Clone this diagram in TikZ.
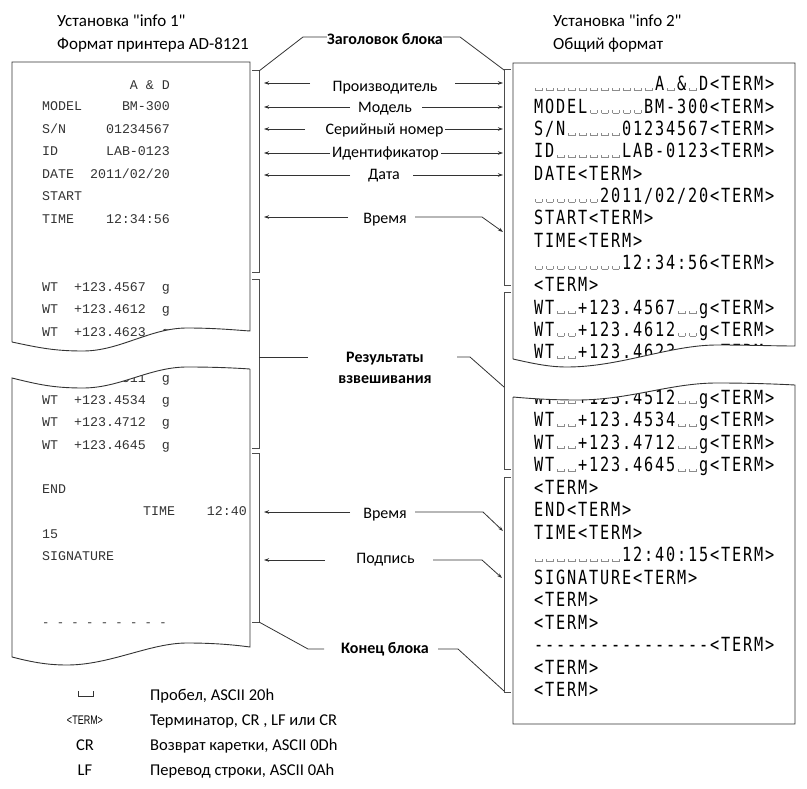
\documentclass[tikz,border=0pt]{standalone}
\usepackage{fontspec}
\setmainfont{Carlito}
\newfontfamily\lmono{Liberation Mono}
\newfontfamily\rmono{DejaVu Sans Mono}
\newfontfamily\nsans{Liberation Sans}
\usepackage{graphicx}
\usetikzlibrary{arrows.meta}
\makeatletter
\newcommand\rline[1]{{\rmono\fontsize{19.5}{20}\selectfont\@tfor\ch:=#1\do{\makebox[11pt][c]{\scalebox{0.78}[1]{\ch}}}}}
\makeatother
\newcommand\sq{\textcolor{black!45}{\rule{0.6pt}{3pt}\rule{8pt}{0.6pt}\rule{0.6pt}{3pt}}}
\newcommand\qq{\XeTeXglyph\XeTeXcharglyph"22\relax}
\tikzset{
  paper/.style={line width=0.9pt, draw=black!80},
  brk/.style={line width=1pt, draw=black!70},
  lead/.style={line width=0.8pt, draw=black!80},
  arr/.style={lead, -{Stealth[length=5pt,width=3.5pt]}},
  lbl/.style={inner sep=0pt, anchor=base, font=\fontsize{16}{18}\selectfont},
  blbl/.style={inner sep=0pt, anchor=base, font=\fontsize{16}{18}\selectfont\bfseries},
  ttl/.style={inner sep=0pt, anchor=base west, font=\fontsize{17}{19}\selectfont},
  ltxt/.style={inner sep=0pt, anchor=base west, text=black!80, font=\lmono\fontsize{13.3}{14}\selectfont},
  rtxt/.style={inner sep=0pt, anchor=base west},
  leg/.style={inner sep=0pt, anchor=base, font=\fontsize{16.5}{18}\selectfont},
  legd/.style={inner sep=0pt, anchor=base west, font=\fontsize{16.5}{18}\selectfont},
}
\begin{document}
\begin{tikzpicture}[x=1pt,y=-1pt]
\useasboundingbox (0,0) rectangle (807,789);

% ---------- titles
\node[ttl] (t1) at (57,27) {Установка \qq info 1\qq};
\node[ttl] (t2) at (57,49.5) {Формат принтера AD-8121};
\node[ttl] (t3) at (553,27) {Установка \qq info 2\qq};
\node[ttl] (t4) at (553,50) {Общий формат};

% ---------- left paper text
\node[ltxt,anchor=base east] (l0) at (170,90) {A \& D};
\node[ltxt] (l1) at (42,111) {MODEL~~~~~BM-300};
\node[ltxt] (l2) at (42,133.3) {S/N~~~~~01234567};
\node[ltxt] (l3) at (42,155.7) {ID~~~~~~LAB-0123};
\node[ltxt] (l4) at (42,178.3) {DATE~~2011/02/20};
\node[ltxt] (l5) at (42,200.7) {START};
\node[ltxt] (l6) at (42,223.3) {TIME~~~~12:34:56};
\node[ltxt] (l7) at (42,291) {WT~~+123.4567~~g};
\node[ltxt] (l8) at (42,313.5) {WT~~+123.4612~~g};
\node[ltxt] (l9) at (42,336) {WT~~+123.4623~~g};
\node[ltxt] (l10) at (42,382) {WT~~+123.4511~~g};
\node[ltxt] (l11) at (42,404) {WT~~+123.4534~~g};
\node[ltxt] (l12) at (42,426.5) {WT~~+123.4712~~g};
\node[ltxt] (l13) at (42,449) {WT~~+123.4645~~g};
\node[ltxt] (l14) at (42,493) {END};
\node[ltxt] (l15a) at (143,515) {TIME};
\node[ltxt,anchor=base east] (l15b) at (247,515) {12:40};
\node[ltxt] (l16) at (42,538) {15};
\node[ltxt] (l17) at (42,560) {SIGNATURE};
\node[ltxt, font=\lmono\fontsize{12.2}{14}\selectfont] (l18) at (42,626) {- - - - - - - - -};

% ---------- right paper text
\node[rtxt] (r1) at (533,91) {\rline{\sq\sq\sq\sq\sq\sq\sq\sq\sq\sq\sq A\sq\&\sq D<TERM>}};
\node[rtxt] (r2) at (533,113.3) {\rline{MODEL\sq\sq\sq\sq\sq BM-300<TERM>}};
\node[rtxt] (r3) at (533,135.6) {\rline{S/N\sq\sq\sq\sq\sq 01234567<TERM>}};
\node[rtxt] (r4) at (533,157.9) {\rline{ID\sq\sq\sq\sq\sq\sq LAB-0123<TERM>}};
\node[rtxt] (r5) at (533,180.2) {\rline{DATE<TERM>}};
\node[rtxt] (r6) at (533,202.5) {\rline{\sq\sq\sq\sq\sq\sq 2011/02/20<TERM>}};
\node[rtxt] (r7) at (533,224.8) {\rline{START<TERM>}};
\node[rtxt] (r8) at (533,247.1) {\rline{TIME<TERM>}};
\node[rtxt] (r9) at (533,269.4) {\rline{\sq\sq\sq\sq\sq\sq\sq\sq 12:34:56<TERM>}};
\node[rtxt] (r10) at (533,291.7) {\rline{<TERM>}};
\node[rtxt] (r11) at (533,314) {\rline{WT\sq\sq+123.4567\sq\sq g<TERM>}};
\node[rtxt] (r12) at (533,336.3) {\rline{WT\sq\sq+123.4612\sq\sq g<TERM>}};
\node[rtxt] (r13) at (533,358.6) {\rline{WT\sq\sq+123.4623\sq\sq g<TERM>}};
\node[rtxt] (r14) at (533,404) {\rline{WT\sq\sq+123.4512\sq\sq g<TERM>}};
\node[rtxt] (r15) at (533,426.5) {\rline{WT\sq\sq+123.4534\sq\sq g<TERM>}};
\node[rtxt] (r16) at (533,449) {\rline{WT\sq\sq+123.4712\sq\sq g<TERM>}};
\node[rtxt] (r17) at (533,471.5) {\rline{WT\sq\sq+123.4645\sq\sq g<TERM>}};
\node[rtxt] (r18) at (533,494) {\rline{<TERM>}};
\node[rtxt] (r19) at (533,516.5) {\rline{END<TERM>}};
\node[rtxt] (r20) at (533,539) {\rline{TIME<TERM>}};
\node[rtxt] (r21) at (533,561.5) {\rline{\sq\sq\sq\sq\sq\sq\sq\sq 12:40:15<TERM>}};
\node[rtxt] (r22) at (533,584) {\rline{SIGNATURE<TERM>}};
\node[rtxt] (r23) at (533,606.5) {\rline{<TERM>}};
\node[rtxt] (r24) at (533,629) {\rline{<TERM>}};
\node[rtxt] (r25) at (533,651.5) {\rline{----------------<TERM>}};
\node[rtxt] (r26) at (533,674) {\rline{<TERM>}};
\node[rtxt] (r27) at (533,696.5) {\rline{<TERM>}};

% ---------- gaps (torn papers)
\fill[white] (11,342) .. controls (40,348) and (55,351) .. (83,351) .. controls (120,351) and (150,328) .. (187,328) .. controls (215,328) and (235,330) .. (251,331)
  -- (251,369) .. controls (235,368) and (215,367) .. (187,367) .. controls (150,367) and (120,388) .. (83,388) .. controls (55,388) and (40,385) .. (11,378) -- cycle;
\fill[white] (512,359) .. controls (535,364) and (550,367) .. (567,367) .. controls (620,367) and (670,345) .. (717,345) .. controls (750,345) and (775,346) .. (796,346)
  -- (796,385) .. controls (775,384) and (750,383) .. (717,383) .. controls (670,383) and (630,400) .. (577,400) .. controls (555,400) and (535,399) .. (512,397) -- cycle;

% ---------- paper outlines
\draw[paper] (12,342) -- (12,62) -- (250,62) -- (250,331)
  .. controls (235,330) and (215,328) .. (187,328) .. controls (150,328) and (120,351) .. (83,351) .. controls (55,351) and (40,348) .. (12,342);
\draw[paper] (250,369) -- (250,647)
  .. controls (235,645) and (215,643) .. (187,643) .. controls (150,643) and (110,665) .. (67,665) .. controls (50,665) and (35,663) .. (12,657)
  -- (12,378) .. controls (40,385) and (55,388) .. (83,388) .. controls (120,388) and (150,367) .. (187,367) .. controls (215,367) and (235,368) .. (250,369);
\draw[paper] (513,359) -- (513,63) -- (795,63) -- (795,346)
  .. controls (775,346) and (750,345) .. (717,345) .. controls (670,345) and (620,367) .. (567,367) .. controls (550,367) and (535,364) .. (513,359);
\draw[paper] (513,397) -- (513,724) -- (795,724) -- (795,385)
  .. controls (775,384) and (750,383) .. (717,383) .. controls (670,383) and (630,400) .. (577,400) .. controls (555,400) and (535,399) .. (513,397);

% ---------- brackets
\draw[brk] (252,71) -- (259,71) -- (259,273) -- (252,273);
\draw[brk] (252,280) -- (259,280) -- (259,448) -- (252,448);
\draw[brk] (252,453) -- (259,453) -- (259,622) -- (252,622);
\draw[brk] (511,70) -- (504,70) -- (504,286) -- (511,286);
\draw[brk] (511,293) -- (504,293) -- (504,469) -- (511,469);
\draw[brk] (511,477) -- (504,477) -- (504,692) -- (511,692);

% ---------- middle labels
\node[blbl] (h) at (385,45) {Заголовок блока};
\node[lbl] (m1) at (385,91.5) {Производитель};
\node[lbl] (m2) at (385,113) {Модель};
\node[lbl] (m3) at (384.5,135) {Серийный номер};
\node[lbl] (m4) at (385.5,157.5) {Идентификатор};
\node[lbl] (m5) at (384,180) {Дата};
\node[lbl] (m6) at (385,224) {Время};
\node[blbl] (res1) at (385,362) {Результаты};
\node[blbl] (res2) at (385,383) {взвешивания};
\node[lbl] (m7) at (385,518) {Время};
\node[lbl] (m8) at (385.5,563) {Подпись};
\node[blbl] (fin) at (385,653) {Конец блока};

% ---------- connector end points
\coordinate (hL) at (259,71);  \coordinate (hLk) at (303,37); \coordinate (hLs) at (h.west |- 0,37);
\coordinate (hR) at (504,70);  \coordinate (hRk) at (460,37); \coordinate (hRs) at (h.east |- 0,37);
\coordinate (rL) at (259,357); \coordinate (rLs) at (308,357);
\coordinate (rR) at (504,387); \coordinate (rRk) at (470,357); \coordinate (rRs) at (457,357);
\coordinate (fL) at (259,622); \coordinate (fLk) at (308,649); \coordinate (fLs) at (324,649);
\coordinate (fR) at (504,691); \coordinate (fRk) at (458,649); \coordinate (fRs) at (438,649);

\coordinate (a1) at (310,83);  \coordinate (A1) at (264,83);  \coordinate (b1) at (455,83);  \coordinate (B1) at (503,83);
\coordinate (a2) at (350,107); \coordinate (A2) at (264,107); \coordinate (b2) at (422,107); \coordinate (B2) at (503,107);
\coordinate (a3) at (305,129); \coordinate (A3) at (264,129); \coordinate (b3) at (445,129); \coordinate (B3) at (503,129);
\coordinate (a4) at (330,153); \coordinate (A4) at (264,153); \coordinate (b4) at (441,153); \coordinate (B4) at (503,153);
\coordinate (a5) at (350,175); \coordinate (A5) at (264,175); \coordinate (b5) at (413,175); \coordinate (B5) at (503,175);
\coordinate (a6) at (348,217); \coordinate (A6) at (264,217); \coordinate (b6) at (415,217); \coordinate (k6) at (482,217); \coordinate (B6) at (503,232);
\coordinate (a7) at (350,512); \coordinate (A7) at (264,512); \coordinate (b7) at (415,512); \coordinate (k7) at (483,512); \coordinate (B7) at (503,531);
\coordinate (a8) at (325,560); \coordinate (A8) at (264,560); \coordinate (b8) at (433,560); \coordinate (k8) at (482,560); \coordinate (B8) at (502,578);

% ---------- leaders
\draw[lead] (hL) -- (hLk) -- (hLs);
\draw[lead] (hRs) -- (hRk) -- (hR);
\draw[lead] (rL) -- (rLs);
\draw[lead] (rRs) -- (rRk) -- (rR);
\draw[lead] (fL) -- (fLk) -- (fLs);
\draw[lead] (fRs) -- (fRk) -- (fR);

\foreach \i in {1,...,5} {
  \draw[arr] (a\i) -- (A\i);
  \draw[arr] (b\i) -- (B\i);
}
\foreach \i in {6,7,8} {
  \draw[arr] (a\i) -- (A\i);
  \draw[arr] (b\i) -- (k\i) -- (B\i);
}

% ---------- legend
\draw[line width=0.8pt, black!80] (78,691) -- (78,696) -- (93,696) -- (93,691);
\node[leg] (k2) at (85,724) {\nsans\fontsize{12.5}{12}\selectfont\scalebox{0.72}[1]{<TERM>}};
\node[leg] (k3) at (85,750) {CR};
\node[leg] (k4) at (85,775) {LF};
\node[legd] (d1) at (150,700.7) {Пробел, ASCII 20h};
\node[legd] (d2) at (150,725) {Терминатор, CR , LF или CR};
\node[legd] (d3) at (150,750) {Возврат каретки, ASCII 0Dh};
\node[legd] (d4) at (150,775) {Перевод строки, ASCII 0Ah};
\end{tikzpicture}
\end{document}
